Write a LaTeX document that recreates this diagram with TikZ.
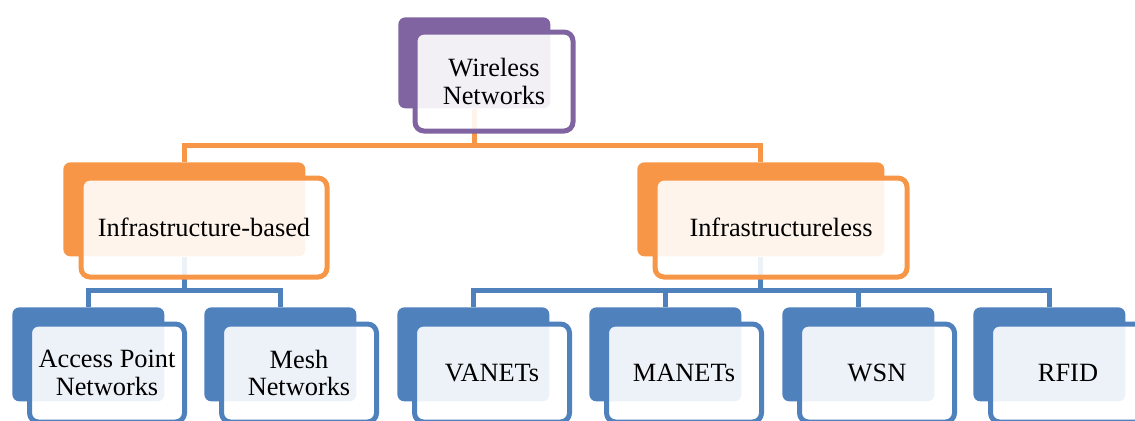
\documentclass[tikz,border=0pt]{standalone}
\usepackage{fontspec}
\setmainfont{Liberation Serif}
\usepackage{tikz}
\usetikzlibrary{calc,backgrounds}
\definecolor{cpurple}{HTML}{8064A2}
\definecolor{corange}{HTML}{F79646}
\definecolor{cblue}{HTML}{4F81BD}
\tikzset{
  back/.style={rounded corners=0.14cm, draw=none, inner sep=0pt, anchor=north west},
  front/.style={rounded corners=0.18cm, line width=0.1cm, fill=white, fill opacity=0.9, text opacity=1, inner sep=2pt, align=center, anchor=north west, font=\fontsize{15}{15.5}\selectfont},
  link/.style={line width=0.1cm},
}
\begin{document}
\begin{tikzpicture}
  \useasboundingbox (0,0) rectangle (22.7,-8.4);
  \clip (0,0) rectangle (22.7,-8.4);
  % root
  \node[back,fill=cpurple,minimum width=3.04cm,minimum height=1.82cm](wnb) at (7.96,-0.34){};
  \node[front,draw=cpurple,minimum width=3.16cm,minimum height=1.98cm](wn) at (8.25,-0.59){Wireless\\Networks};
  % second level
  \node[back,fill=corange,minimum width=4.84cm,minimum height=1.88cm](ibb) at (1.26,-3.24){};
  \node[front,draw=corange,minimum width=4.92cm,minimum height=1.98cm](ib) at (1.57,-3.51){Infrastructure-based};
  \node[back,fill=corange,minimum width=4.94cm,minimum height=1.88cm](ilb) at (12.74,-3.24){};
  \node[front,draw=corange,minimum width=5.04cm,minimum height=1.98cm](il) at (13.05,-3.51){Infrastructureless};
  % third level, under infrastructure-based
  \node[back,fill=cblue,minimum width=3.04cm,minimum height=1.88cm](apb) at (0.24,-6.14){};
  \node[front,draw=cblue,minimum width=3.1cm,minimum height=1.96cm](ap) at (0.54,-6.43){Access Point\\Networks};
  \node[back,fill=cblue,minimum width=3.04cm,minimum height=1.88cm](mnb) at (4.08,-6.14){};
  \node[front,draw=cblue,minimum width=3.1cm,minimum height=1.96cm](mn) at (4.38,-6.43){Mesh\\Networks};
  % third level, under infrastructureless
  \node[back,fill=cblue,minimum width=3.04cm,minimum height=1.88cm](vab) at (7.94,-6.14){};
  \node[front,draw=cblue,minimum width=3.1cm,minimum height=1.96cm](va) at (8.24,-6.43){VANETs};
  \node[back,fill=cblue,minimum width=3.04cm,minimum height=1.88cm](mab) at (11.78,-6.14){};
  \node[front,draw=cblue,minimum width=3.1cm,minimum height=1.96cm](ma) at (12.08,-6.43){MANETs};
  \node[back,fill=cblue,minimum width=3.04cm,minimum height=1.88cm](wsb) at (15.64,-6.14){};
  \node[front,draw=cblue,minimum width=3.1cm,minimum height=1.96cm](ws) at (15.94,-6.43){WSN};
  \node[back,fill=cblue,minimum width=3.04cm,minimum height=1.88cm](rfb) at (19.46,-6.14){};
  \node[front,draw=cblue,minimum width=3.1cm,minimum height=1.96cm](rf) at (19.76,-6.43){RFID};
  % connectors
  \begin{scope}[on background layer]
    \coordinate (j1) at ($(wnb.south)+(0,-0.73)$);
    \draw[link,draw=corange] (wnb.south) -- (j1) -| (ibb.north);
    \draw[link,draw=corange] (j1) -| (ilb.north);
    \coordinate (j2) at ($(ibb.south)+(0,-0.68)$);
    \draw[link,draw=cblue] (ibb.south) -- (j2) -| (apb.north);
    \draw[link,draw=cblue] (j2) -| (mnb.north);
    \coordinate (j3) at ($(ilb.south)+(0,-0.68)$);
    \draw[link,draw=cblue] (ilb.south) -- (j3) -| (vab.north);
    \draw[link,draw=cblue] (j3) -| (mab.north);
    \draw[link,draw=cblue] (j3) -| (wsb.north);
    \draw[link,draw=cblue] (j3) -| (rfb.north);
  \end{scope}
\end{tikzpicture}
\end{document}
